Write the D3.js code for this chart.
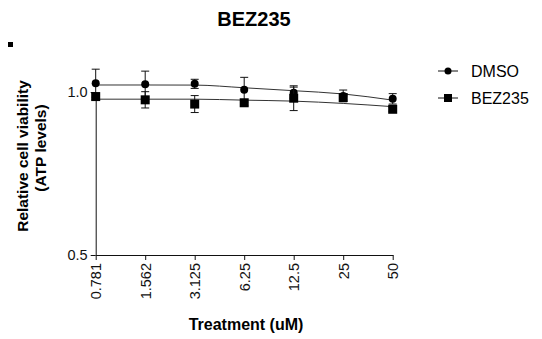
<!DOCTYPE html>
<html>
<head>
<meta charset="utf-8">
<script src="https://cdn.jsdelivr.net/npm/d3@7"></script>
<style>
  body { margin: 0; background: #fff; }
  svg { display: block; font-family: "Liberation Sans", Arial, sans-serif; }
</style>
</head>
<body>
<svg id="chart" width="542" height="339"></svg>
<script>
// doses (uM) and labels
const doses = [0.78125, 1.5625, 3.125, 6.25, 12.5, 25, 50];
const doseLabels = ["0.781", "1.562", "3.125", "6.25", "12.5", "25", "50"];

// measured means and SEM
const dmsoMean = [1.027, 1.024, 1.025, 1.007, 0.998, 0.988, 0.979];
const dmsoErr = [0.043, 0.040, 0.014, 0.038, 0.017, 0.018, 0.016];
const bezMean = [0.986, 0.976, 0.963, 0.967, 0.981, 0.983, 0.947];
const bezErr = [0.010, 0.025, 0.026, 0.008, 0.038, 0.008, 0.006];

// fitted curves at each dose
const dmsoFit = [1.0215, 1.0215, 1.0212, 1.013, 1.004, 0.994, 0.975];
const bezFit = [0.978, 0.978, 0.978, 0.975, 0.972, 0.965, 0.955];

const yTicks = [0.5, 1.0];

const svg = d3.select("#chart");

const x = d3.scaleLog().domain([0.78125, 50]).range([95.7, 392.7]);
const y = d3.scaleLinear().domain([0.5, 1.0]).range([255, 92]);

// title
svg.append("text")
    .attr("x", 254).attr("y", 26)
    .attr("text-anchor", "middle")
    .attr("font-size", 20).attr("font-weight", "bold")
    .text("BEZ235");

// stray legend square
svg.append("rect")
    .attr("x", 8).attr("y", 42).attr("width", 5).attr("height", 5)
    .attr("fill", "#000");

// axes
const xaxis = d3.axisBottom(x)
    .tickValues(doses)
    .tickFormat((d, i) => doseLabels[i])
    .tickSize(5).tickSizeOuter(0);
const gx = svg.append("g")
    .attr("transform", "translate(0,255)")
    .call(xaxis);
gx.selectAll("text")
    .attr("transform", "rotate(-90)")
    .attr("text-anchor", "end")
    .attr("x", -8).attr("y", 0).attr("dy", "0.35em")
    .attr("font-size", 14.5).attr("fill", "#111");

const yaxis = d3.axisLeft(y)
    .tickValues(yTicks)
    .tickFormat(d3.format(".1f"))
    .tickSize(5).tickSizeOuter(0);
const gy = svg.append("g")
    .attr("transform", "translate(95.7,0)")
    .call(yaxis);
gy.selectAll("text").attr("font-size", 14.5).attr("fill", "#111").attr("x", -8);

svg.selectAll(".domain, .tick line").attr("stroke", "#111").attr("stroke-width", 1);

// axis titles
svg.append("text")
    .attr("transform", "translate(28,156) rotate(-90)")
    .attr("text-anchor", "middle")
    .attr("font-size", 15.5).attr("font-weight", "bold")
    .text("Relative cell viability");
svg.append("text")
    .attr("transform", "translate(46,148) rotate(-90)")
    .attr("text-anchor", "middle")
    .attr("font-size", 15.5).attr("font-weight", "bold")
    .text("(ATP levels)");
svg.append("text")
    .attr("x", 246).attr("y", 330)
    .attr("text-anchor", "middle")
    .attr("font-size", 16).attr("font-weight", "bold")
    .text("Treatment (uM)");

// fit curves
const line = d3.line()
    .x(d => x(d.x))
    .y(d => y(d.y))
    .curve(d3.curveMonotoneX);

function series(fit, mean, err, shape) {
    svg.append("path")
        .datum(doses.map((d, i) => ({ x: d, y: fit[i] })))
        .attr("fill", "none")
        .attr("stroke", "#333")
        .attr("stroke-width", 1)
        .attr("d", line);

    const pts = doses.map((d, i) => ({ x: d, y: mean[i], e: err[i] }));
    const g = svg.append("g");
    g.selectAll(".eb").data(pts).join("path")
        .attr("fill", "none").attr("stroke", "#111").attr("stroke-width", 1)
        .attr("d", d => {
            const cx = x(d.x), t = y(d.y + d.e), b = y(d.y - d.e);
            return `M${cx - 4},${t}H${cx + 4}M${cx},${t}V${b}M${cx - 4},${b}H${cx + 4}`;
        });
    if (shape === "circle") {
        g.selectAll(".pt").data(pts).join("circle")
            .attr("cx", d => x(d.x)).attr("cy", d => y(d.y))
            .attr("r", 4).attr("fill", "#000");
    } else {
        g.selectAll(".pt").data(pts).join("rect")
            .attr("x", d => x(d.x) - 4.5).attr("y", d => y(d.y) - 4.5)
            .attr("width", 9).attr("height", 9).attr("fill", "#000");
    }
}

series(dmsoFit, dmsoMean, dmsoErr, "circle");
series(bezFit, bezMean, bezErr, "square");

// legend
const legend = [
    { name: "DMSO", shape: "circle", y: 71 },
    { name: "BEZ235", shape: "square", y: 98 }
];
legend.forEach(l => {
    svg.append("line")
        .attr("x1", 438).attr("x2", 458)
        .attr("y1", l.y).attr("y2", l.y)
        .attr("stroke", "#111").attr("stroke-width", 1);
    if (l.shape === "circle") {
        svg.append("circle").attr("cx", 448).attr("cy", l.y).attr("r", 3.5).attr("fill", "#000");
    } else {
        svg.append("rect").attr("x", 444).attr("y", l.y - 4).attr("width", 8).attr("height", 8).attr("fill", "#000");
    }
    svg.append("text")
        .attr("x", 471).attr("y", l.y).attr("dy", "0.35em")
        .attr("font-size", 16)
        .text(l.name);
});
</script>
</body>
</html>
